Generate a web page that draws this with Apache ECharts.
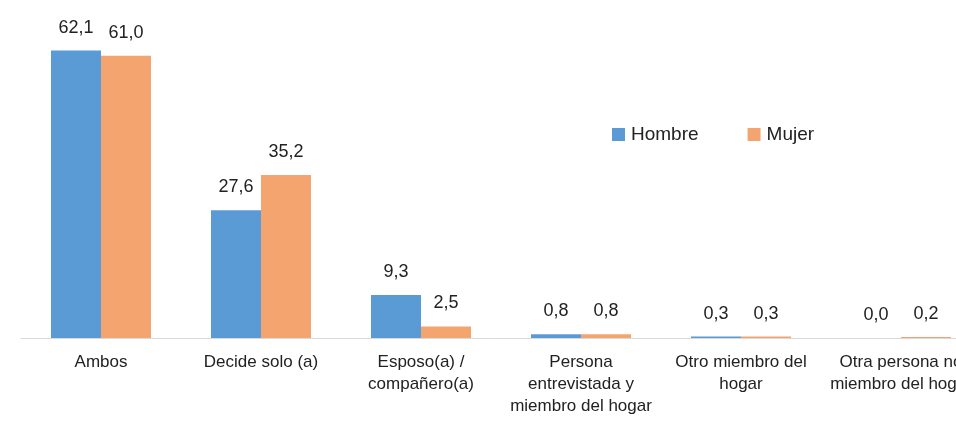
<!DOCTYPE html>
<html>
<head>
<meta charset="utf-8">
<style>html,body{margin:0;padding:0;background:#fff;}#c{width:956px;height:422px;}</style>
<script src="https://cdn.jsdelivr.net/npm/echarts@6/dist/echarts.min.js"></script>
</head>
<body>
<div id="c"></div>
<script>
const categories = ['Ambos', 'Decide solo (a)', 'Esposo(a) /\ncompañero(a)', 'Persona\nentrevistada y\nmiembro del hogar', 'Otro miembro del\nhogar', 'Otra persona no\nmiembro del hogar'];
const hombre = [62.1, 27.6, 9.3, 0.8, 0.3, 0.0];
const mujer = [61.0, 35.2, 2.5, 0.8, 0.3, 0.2];
const seriesNames = ['Hombre', 'Mujer'];

const FONT = '"Liberation Sans", Arial, sans-serif';
const chart = echarts.init(document.getElementById('c'), null, {renderer: 'canvas'});
const lbl = {show: true, position: 'top', distance: 14, color: '#222', fontFamily: FONT, fontSize: 18,
  formatter: p => p.value.toFixed(1).replace('.', ',')};
chart.setOption({
  animation: false,
  legend: {
    data: seriesNames, left: 607, top: 120, itemWidth: 13, itemHeight: 13, itemGap: 49,
    icon: 'rect', textStyle: {fontFamily: FONT, fontSize: 19, color: '#222', padding: [0, 0, 0, 1]}
  },
  grid: {left: 21, top: 14, width: 960, height: 324, containLabel: false, outerBoundsMode: 'none'},
  xAxis: {
    type: 'category', data: categories,
    axisLine: {lineStyle: {color: '#d9d9d9', width: 1}},
    axisTick: {show: false},
    axisLabel: {interval: 0, margin: 13, color: '#222', fontFamily: FONT, fontSize: 17, lineHeight: 22}
  },
  yAxis: {type: 'value', min: 0, max: 70, show: false, splitLine: {show: false}},
  series: [
    {name: seriesNames[0], type: 'bar', data: hombre, barWidth: 50, barGap: '0%', itemStyle: {color: '#5B9BD5'}, label: lbl},
    {name: seriesNames[1], type: 'bar', data: mujer, barWidth: 50, barGap: '0%', itemStyle: {color: '#F4A46E'}, label: lbl}
  ]
});
</script>
</body>
</html>
